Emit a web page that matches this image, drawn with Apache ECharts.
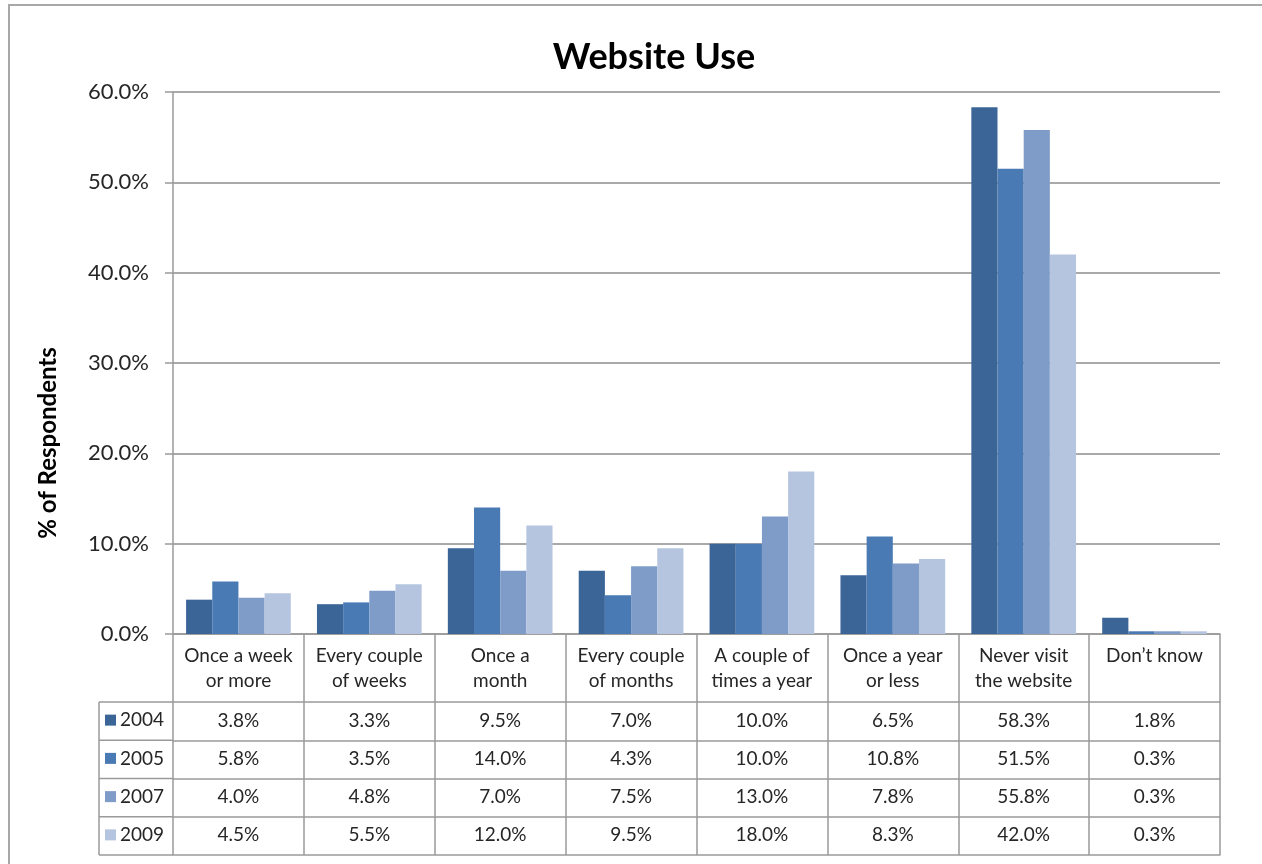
<!DOCTYPE html>
<html>
<head>
<meta charset="utf-8">
<script src="https://cdn.jsdelivr.net/npm/echarts@6/dist/echarts.min.js"></script>
<style>
html,body{margin:0;padding:0;background:#fff;}
#chart{width:1262px;height:864px;}
</style>
</head>
<body>
<div id="chart"></div>
<script>
const categories = ['Once a week\nor more', 'Every couple\nof weeks', 'Once a\nmonth', 'Every couple\nof months', 'A couple of\ntimes a year', 'Once a year\nor less', 'Never visit\nthe website', 'Don\u2019t know'];
const years = ['2004', '2005', '2007', '2009'];
const values2004 = [3.8, 3.3, 9.5, 7.0, 10.0, 6.5, 58.3, 1.8];
const values2005 = [5.8, 3.5, 14.0, 4.3, 10.0, 10.8, 51.5, 0.3];
const values2007 = [4.0, 4.8, 7.0, 7.5, 13.0, 7.8, 55.8, 0.3];
const values2009 = [4.5, 5.5, 12.0, 9.5, 18.0, 8.3, 42.0, 0.3];
const yTicks = [0, 10, 20, 30, 40, 50, 60];

const seriesValues = [values2004, values2005, values2007, values2009];
const colors = ['#3B6497', '#4A7AB4', '#7F9CC9', '#B5C4DF'];
const FONT = 'Lato, "Liberation Sans", sans-serif';
const lineCol = '#9a9a9a';

const gridLeft = 173, gridRight = 42, gridTop = 92, gridBottom = 230;
const plotBottom = 864 - gridBottom; // 634
const headerH = 68, rowH = 38.25;
const tableLeft = 99;
const tableFont = 19;

const chart = echarts.init(document.getElementById('chart'), null, {renderer: 'canvas'});

const xAxes = [{
  type: 'category',
  data: categories,
  gridIndex: 0,
  position: 'bottom',
  axisLine: {show: true, lineStyle: {color: lineCol, width: 1.5}},
  axisTick: {show: true, interval: 0, length: headerH + rowH * 4, lineStyle: {color: lineCol, width: 1.5}},
  axisLabel: {interval: 0, fontFamily: FONT, fontSize: tableFont, lineHeight: 25, color: '#262626', margin: 9}
}];
seriesValues.forEach((vals, i) => {
  xAxes.push({
    type: 'category',
    data: vals.map(v => v.toFixed(1) + '%'),
    gridIndex: 0,
    position: 'bottom',
    offset: headerH + rowH * i,
    axisLine: {show: true, lineStyle: {color: lineCol, width: 1.5}},
    axisTick: {show: false},
    axisLabel: {interval: 0, fontFamily: FONT, fontSize: tableFont, color: '#262626', margin: 9}
  });
});
xAxes.push({
  type: 'category',
  data: categories,
  gridIndex: 0,
  position: 'bottom',
  offset: headerH + rowH * 4,
  axisLine: {show: true, lineStyle: {color: lineCol, width: 1.5}},
  axisTick: {show: false},
  axisLabel: {show: false}
});

const graphics = [
  {type: 'rect', silent: true, z: 0, shape: {x: 9, y: 5, width: 1300, height: 900},
   style: {fill: 'none', stroke: '#a8a8a8', lineWidth: 2}},
  {type: 'text', x: 48, y: 443, rotation: Math.PI / 2,
   style: {text: '% of Respondents', font: 'bold 24px ' + FONT, fill: '#000', align: 'center', verticalAlign: 'middle'}},
  {type: 'line', shape: {x1: tableLeft, y1: plotBottom + headerH, x2: tableLeft, y2: plotBottom + headerH + rowH * 4},
   style: {stroke: lineCol, lineWidth: 1.5}}
];
for (let i = 0; i <= 4; i++) {
  const y = plotBottom + headerH + rowH * i;
  graphics.push({type: 'line', shape: {x1: tableLeft, y1: y, x2: gridLeft, y2: y}, style: {stroke: lineCol, lineWidth: 1.5}});
}

chart.setOption({
  animation: false,
  backgroundColor: '#fff',
  title: {
    text: 'Website Use',
    left: 649, top: 34, textAlign: 'center',
    textStyle: {fontFamily: FONT, fontWeight: 'bold', fontSize: 36, color: '#000'}
  },
  legend: {
    data: years,
    orient: 'vertical',
    left: 105, top: plotBottom + headerH - 1,
    padding: 0, itemGap: 0,
    itemWidth: 11, itemHeight: 11, icon: 'rect',
    itemStyle: {borderWidth: 0},
    textStyle: {fontFamily: FONT, fontSize: tableFont, color: '#262626', lineHeight: rowH, padding: [0, 0, 0, -1]},
    selectedMode: false
  },
  grid: {left: gridLeft, right: gridRight, top: gridTop, bottom: gridBottom, containLabel: false},
  xAxis: xAxes,
  yAxis: {
    type: 'value', min: yTicks[0], max: yTicks[yTicks.length - 1], interval: 10,
    axisLine: {show: true, lineStyle: {color: lineCol, width: 1.5}},
    axisTick: {show: true, length: 8, lineStyle: {color: lineCol, width: 1.5}},
    splitLine: {show: true, lineStyle: {color: '#8c8c8c', width: 1.5}},
    axisLabel: {fontFamily: FONT, fontSize: 22, color: '#262626', margin: 24, formatter: v => v.toFixed(1) + '%'}
  },
  graphic: graphics,
  series: years.map((y, i) => ({
    name: y,
    type: 'bar',
    xAxisIndex: 0,
    data: seriesValues[i],
    barGap: '0%',
    barCategoryGap: '20%',
    itemStyle: {color: colors[i]}
  }))
});
</script>
</body>
</html>
